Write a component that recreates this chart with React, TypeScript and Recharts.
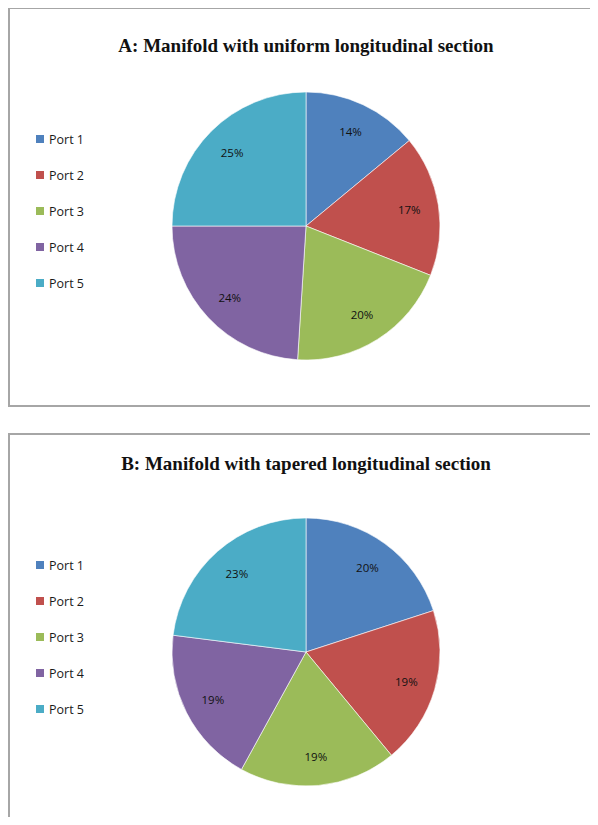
import React from 'react';
import { PieChart, Pie, Cell, Legend } from 'recharts';

const PORTS = ['Port 1', 'Port 2', 'Port 3', 'Port 4', 'Port 5'];
const UNIFORM_SHARE = [14, 17, 20, 24, 25];
const TAPERED_SHARE = [20, 19, 19, 19, 23];
const TITLES = [
  'A: Manifold with uniform longitudinal section',
  'B: Manifold with tapered longitudinal section',
];

const COLORS = ['#4F81BD', '#C0504D', '#9BBB59', '#8064A2', '#4BACC6'];
const RADIAN = Math.PI / 180;

const renderLabel = (props: any) => {
  const { cx, cy, midAngle, outerRadius, value } = props;
  const r = outerRadius * 0.78;
  const x = cx + r * Math.cos(-midAngle * RADIAN);
  const y = cy + r * Math.sin(-midAngle * RADIAN);
  return (
    <text
      x={x}
      y={y}
      fill="#111"
      textAnchor="middle"
      dominantBaseline="central"
      style={{ fontFamily: 'Open Sans, sans-serif', fontSize: 11.5 }}
    >
      {`${value}%`}
    </text>
  );
};

const renderLegend = (props: any) => {
  const { payload } = props;
  return (
    <div style={{ fontFamily: 'Open Sans, sans-serif', fontSize: 12.5, color: '#1a1a1a' }}>
      {payload.map((entry: any, i: number) => (
        <div key={`leg-${i}`} style={{ display: 'flex', alignItems: 'center', height: 36 }}>
          <span
            style={{
              display: 'inline-block',
              width: 8,
              height: 8,
              background: entry.color,
              marginRight: 5,
            }}
          />
          <span>{entry.value}</span>
        </div>
      ))}
    </div>
  );
};

interface PanelProps {
  title: string;
  values: number[];
  top: number;
  height: number;
  titleTop: number;
  legendTop: number;
}

const Panel: React.FC<PanelProps> = ({ title, values, top, height, titleTop, legendTop }) => {
  const data = PORTS.map((name, i) => ({ name, value: values[i] }));
  return (
    <div
      style={{
        position: 'absolute',
        left: 0,
        top,
        width: 600,
        height,
        border: '2px solid #a6a6a6',
        background: '#fff',
      }}
    >
      <div
        style={{
          position: 'absolute',
          left: 0,
          width: 592,
          top: titleTop,
          textAlign: 'center',
          fontFamily: '"Liberation Serif", "Times New Roman", serif',
          fontWeight: 'bold',
          fontSize: 19,
          color: '#111',
        }}
      >
        {title}
      </div>
      <PieChart width={596} height={height} margin={{ top: 0, right: 0, bottom: 0, left: 0 }}>
        <Pie
          data={data}
          dataKey="value"
          nameKey="name"
          cx={296}
          cy={217}
          outerRadius={134}
          startAngle={90}
          endAngle={-270}
          stroke="#ffffff"
          strokeWidth={0.6}
          label={renderLabel}
          labelLine={false}
          isAnimationActive={false}
        >
          {data.map((d, i) => (
            <Cell key={`cell-${i}`} fill={COLORS[i]} />
          ))}
        </Pie>
        <Legend
          layout="vertical"
          content={renderLegend}
          wrapperStyle={{ position: 'absolute', left: 26, top: legendTop - 18, width: 100 }}
        />
      </PieChart>
    </div>
  );
};

const App: React.FC = () => {
  return (
    <div
      style={{
        position: 'relative',
        width: 590,
        height: 817,
        marginBottom: -8,
        overflow: 'hidden',
      }}
    >
      <Panel title={TITLES[0]} values={UNIFORM_SHARE} top={-1} height={396} titleTop={26} legendTop={130} />
      <Panel title={TITLES[1]} values={TAPERED_SHARE} top={425} height={420} titleTop={18} legendTop={130} />
    </div>
  );
};

export default App;
